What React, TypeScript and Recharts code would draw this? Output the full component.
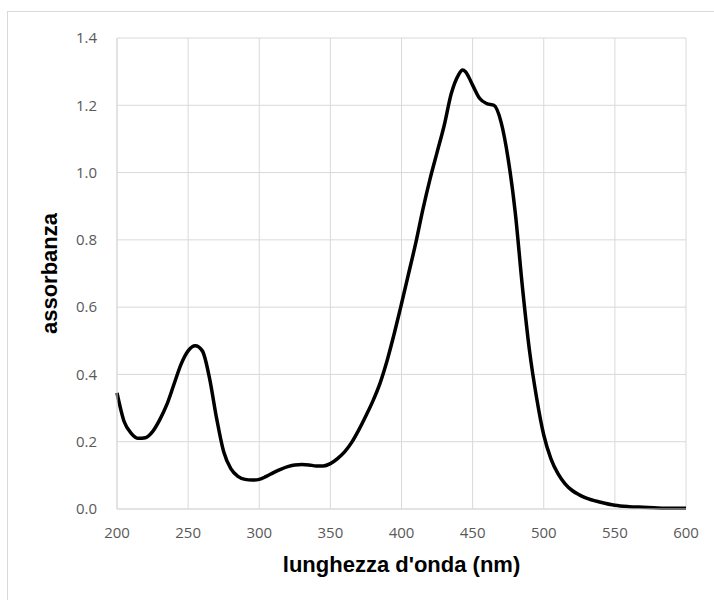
import React from 'react';
import { LineChart, Line, XAxis, YAxis, CartesianGrid } from 'recharts';

const wavelengths = [
  200, 205, 210, 215, 220, 225, 230, 235, 240, 245, 250, 255, 260, 265, 270, 275, 280, 285, 290, 295,
  300, 305, 310, 315, 320, 325, 330, 335, 340, 345, 350, 355, 360, 365, 370, 375, 380, 385, 390, 395,
  400, 405, 410, 415, 420, 425, 430, 435, 440, 443, 445, 450, 455, 460, 465, 470, 475, 480, 485, 490,
  495, 500, 505, 510, 515, 520, 525, 530, 540, 550, 560, 570, 580, 590, 600,
];
const absorbance = [
  0.345, 0.26, 0.225, 0.21, 0.212, 0.23, 0.265, 0.31, 0.37, 0.43, 0.47, 0.485, 0.47, 0.39, 0.27, 0.17, 0.12, 0.097, 0.088, 0.086,
  0.088, 0.097, 0.108, 0.118, 0.126, 0.131, 0.132, 0.131, 0.128, 0.128, 0.135, 0.15, 0.17, 0.198, 0.235, 0.277, 0.322, 0.375, 0.443, 0.523,
  0.61, 0.7, 0.79, 0.89, 0.98, 1.06, 1.14, 1.235, 1.29, 1.305, 1.3, 1.26, 1.22, 1.205, 1.2, 1.15, 1.04, 0.88, 0.66, 0.47,
  0.33, 0.22, 0.15, 0.105, 0.075, 0.055, 0.042, 0.032, 0.02, 0.011, 0.007, 0.005, 0.003, 0.002, 0.002,
];
const xTicks = [200, 250, 300, 350, 400, 450, 500, 550, 600];
const yTicks = [0, 0.2, 0.4, 0.6, 0.8, 1.0, 1.2, 1.4];
const xTitle = "lunghezza d'onda (nm)";
const yTitle = 'assorbanza';

const data = wavelengths.map((w, i) => ({ nm: w, a: absorbance[i] }));

const tickStyle = { fontSize: 15, fill: '#595959', fontFamily: 'Open Sans, sans-serif' };
const titleStyle = { fontSize: 22, fontWeight: 'bold', fill: '#000', fontFamily: 'Liberation Sans, Arial, sans-serif' };

export default function App() {
  return (
    <div style={{ position: 'absolute', left: 0, top: 0, width: 714, height: 600, overflow: 'hidden', background: '#fff' }}>
      <div style={{ position: 'absolute', left: 7, top: 11, width: 800, height: 700, border: '1px solid #d9d9d9' }} />
      <div style={{ position: 'absolute', left: 0, top: 0 }}>
        <LineChart width={714} height={600} data={data} margin={{ top: 38, right: 28, left: 0, bottom: 0 }}>
          <CartesianGrid stroke="#d9d9d9" strokeWidth={1} />
          <XAxis
            dataKey="nm"
            type="number"
            domain={[200, 600]}
            ticks={xTicks}
            height={91}
            stroke="#d9d9d9"
            tickLine={false}
            tickSize={0}
            tickMargin={18}
            tick={tickStyle}
            label={{ value: xTitle, position: 'insideBottom', offset: 28, style: titleStyle }}
          />
          <YAxis
            type="number"
            domain={[0, 1.4]}
            ticks={yTicks}
            width={117}
            stroke="#d9d9d9"
            tickLine={false}
            tickSize={0}
            tickMargin={20}
            tick={tickStyle}
            tickFormatter={(v: number) => v.toFixed(1)}
            label={{ value: yTitle, angle: -90, position: 'insideLeft', offset: 49, style: { ...titleStyle, textAnchor: 'middle' } }}
          />
          <Line type="monotone" dataKey="a" stroke="#000" strokeWidth={3.5} dot={false} isAnimationActive={false} />
        </LineChart>
      </div>
    </div>
  );
}
